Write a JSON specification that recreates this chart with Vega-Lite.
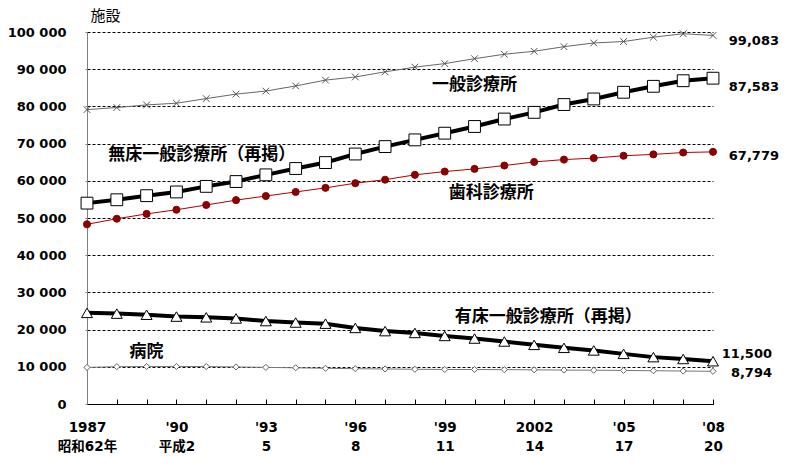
{
  "$schema": "https://vega.github.io/schema/vega-lite/v6.json",
  "width": 626,
  "height": 372,
  "autosize": "none",
  "padding": {"left": 87, "top": 32, "right": 83, "bottom": 62},
  "background": "white",
  "config": {
    "view": {"stroke": null},
    "font": "DejaVu Sans, Noto Sans CJK JP",
    "axis": {"labelOverlap": false}
  },
  "datasets": {
    "facilities": [
      {"year": 1987, "一般診療所": 79134, "無床一般診療所": 54000, "歯科診療所": 48300, "有床一般診療所": 24500, "病院": 9841},
      {"year": 1988, "一般診療所": 79700, "無床一般診療所": 54900, "歯科診療所": 49800, "有床一般診療所": 24300, "病院": 10034},
      {"year": 1989, "一般診療所": 80400, "無床一般診療所": 56000, "歯科診療所": 51100, "有床一般診療所": 24000, "病院": 10081},
      {"year": 1990, "一般診療所": 80852, "無床一般診療所": 57000, "歯科診療所": 52216, "有床一般診療所": 23500, "病院": 10096},
      {"year": 1991, "一般診療所": 82100, "無床一般診療所": 58500, "歯科診療所": 53500, "有床一般診療所": 23300, "病院": 10066},
      {"year": 1992, "一般診療所": 83300, "無床一般診療所": 59800, "歯科診療所": 54800, "有床一般診療所": 23000, "病院": 9963},
      {"year": 1993, "一般診療所": 84128, "無床一般診療所": 61600, "歯科診療所": 55906, "有床一般診療所": 22300, "病院": 9844},
      {"year": 1994, "一般診療所": 85500, "無床一般診療所": 63300, "歯科診療所": 57000, "有床一般診療所": 21900, "病院": 9731},
      {"year": 1995, "一般診療所": 87069, "無床一般診療所": 64900, "歯科診療所": 58100, "有床一般診療所": 21600, "病院": 9606},
      {"year": 1996, "一般診療所": 87909, "無床一般診療所": 67200, "歯科診療所": 59357, "有床一般診療所": 20452, "病院": 9490},
      {"year": 1997, "一般診療所": 89292, "無床一般診療所": 69200, "歯科診療所": 60300, "有床一般診療所": 19600, "病院": 9413},
      {"year": 1998, "一般診療所": 90556, "無床一般診療所": 71000, "歯科診療所": 61600, "有床一般診療所": 19100, "病院": 9333},
      {"year": 1999, "一般診療所": 91500, "無床一般診療所": 72800, "歯科診療所": 62484, "有床一般診療所": 18300, "病院": 9286},
      {"year": 2000, "一般診療所": 92824, "無床一般診療所": 74600, "歯科診療所": 63200, "有床一般診療所": 17600, "病院": 9266},
      {"year": 2001, "一般診療所": 94019, "無床一般診療所": 76600, "歯科診療所": 64100, "有床一般診療所": 16800, "病院": 9239},
      {"year": 2002, "一般診療所": 94819, "無床一般診療所": 78400, "歯科診療所": 65073, "有床一般診療所": 15900, "病院": 9187},
      {"year": 2003, "一般診療所": 96050, "無床一般診療所": 80500, "歯科診療所": 65700, "有床一般診療所": 15100, "病院": 9122},
      {"year": 2004, "一般診療所": 97051, "無床一般診療所": 82000, "歯科診療所": 66100, "有床一般診療所": 14400, "病院": 9077},
      {"year": 2005, "一般診療所": 97442, "無床一般診療所": 83800, "歯科診療所": 66732, "有床一般診療所": 13477, "病院": 9026},
      {"year": 2006, "一般診療所": 98609, "無床一般診療所": 85400, "歯科診療所": 67100, "有床一般診療所": 12600, "病院": 8943},
      {"year": 2007, "一般診療所": 99532, "無床一般診療所": 86900, "歯科診療所": 67600, "有床一般診療所": 12100, "病院": 8862},
      {"year": 2008, "一般診療所": 99083, "無床一般診療所": 87583, "歯科診療所": 67779, "有床一般診療所": 11500, "病院": 8794}
    ],
    "seriesLabels": [
      {"label": "一般診療所", "year": 2000.0, "value": 85750},
      {"label": "無床一般診療所（再掲）", "year": 1990.85, "value": 66900},
      {"label": "歯科診療所", "year": 2000.56, "value": 56600},
      {"label": "有床一般診療所（再掲）", "year": 2002.47, "value": 23500},
      {"label": "病院", "year": 1989.0, "value": 14100}
    ],
    "endLabelsTop": [
      {"label": "99,083", "year": 2008, "value": 97700},
      {"label": "87,583", "year": 2008, "value": 85100},
      {"label": "67,779", "year": 2008, "value": 66700}
    ],
    "endLabelsBottom": [
      {"label": "11,500", "year": 2008, "value": 13400},
      {"label": "8,794", "year": 2008, "value": 8200}
    ]
  },
  "layer": [
    {
      "data": {"name": "facilities"},
      "transform": [{"fold": ["一般診療所", "無床一般診療所", "歯科診療所", "有床一般診療所", "病院"], "as": ["series", "value"]}],
      "mark": {"type": "line"},
      "encoding": {
        "x": {
          "field": "year", "type": "quantitative",
          "scale": {"domain": [1987, 2008], "nice": false, "zero": false},
          "axis": {
            "title": null,
            "values": [1987, 1988, 1989, 1990, 1991, 1992, 1993, 1994, 1995, 1996, 1997, 1998, 1999, 2000, 2001, 2002, 2003, 2004, 2005, 2006, 2007, 2008],
            "tickCount": 40,
            "labelExpr": "datum.value == 1987 ? ['1987', '昭和62年'] : datum.value == 1990 ? [\"'90\", '平成2'] : datum.value == 1993 ? [\"'93\", '5'] : datum.value == 1996 ? [\"'96\", '8'] : datum.value == 1999 ? [\"'99\", '11'] : datum.value == 2002 ? ['2002', '14'] : datum.value == 2005 ? [\"'05\", '17'] : datum.value == 2008 ? [\"'08\", '20'] : ''",
            "labelFontSize": 13.5,
            "labelFontWeight": "bold",
            "labelColor": "#000",
            "labelLineHeight": 19,
            "labelBaseline": "top",
            "labelOverlap": false,
            "labelFlush": false,
            "labelPadding": 21,
            "tickSize": -5,
            "tickColor": "#000",
            "domainColor": "#000",
            "grid": false
          }
        },
        "y": {
          "field": "value", "type": "quantitative",
          "scale": {"domain": [0, 100000], "nice": false},
          "axis": {
            "title": "施設",
            "titleAngle": 0,
            "titleAlign": "left",
            "titleBaseline": "alphabetic",
            "titleX": 3,
            "titleY": -12,
            "titleFont": "Noto Sans CJK JP",
            "titleFontWeight": "normal",
            "titleFontSize": 15,
            "titleColor": "#000",
            "values": [0, 10000, 20000, 30000, 40000, 50000, 60000, 70000, 80000, 90000, 100000],
            "tickCount": 20,
            "labelExpr": "replace(format(datum.value, ','), ',', ' ')",
            "labelFontSize": 13,
            "labelFontWeight": "bold",
            "labelColor": "#000",
            "labelOverlap": false,
            "labelPadding": 19,
            "tickSize": 2,
            "tickColor": "#808080",
            "domainColor": "#808080",
            "grid": true,
            "gridColor": "#000",
            "gridDash": [3, 2],
            "gridWidth": 1
          }
        },
        "color": {
          "field": "series", "type": "nominal",
          "scale": {"type": "ordinal", "domain": ["一般診療所", "無床一般診療所", "歯科診療所", "有床一般診療所", "病院"], "range": ["#666666", "#000000", "#b00000", "#000000", "#777777"]},
          "legend": null
        },
        "strokeWidth": {
          "field": "series", "type": "nominal",
          "scale": {"type": "ordinal", "domain": ["一般診療所", "無床一般診療所", "歯科診療所", "有床一般診療所", "病院"], "range": [1, 4, 1, 4, 1]},
          "legend": null
        }
      }
    },
    {
      "data": {"name": "facilities"},
      "transform": [{"fold": ["一般診療所", "無床一般診療所", "歯科診療所", "有床一般診療所", "病院"], "as": ["series", "value"]}],
      "mark": {"type": "point", "filled": false, "opacity": 1, "strokeWidth": 1},
      "encoding": {
        "x": {"field": "year", "type": "quantitative"},
        "y": {"field": "value", "type": "quantitative"},
        "shape": {
          "field": "series", "type": "nominal",
          "scale": {"type": "ordinal", "domain": ["一般診療所", "無床一般診療所", "歯科診療所", "有床一般診療所", "病院"], "range": ["M-1,-1L1,1M-1,1L1,-1", "square", "circle", "triangle-up", "diamond"]},
          "legend": null
        },
        "size": {
          "field": "series", "type": "nominal",
          "scale": {"type": "ordinal", "domain": ["一般診療所", "無床一般診療所", "歯科診療所", "有床一般診療所", "病院"], "range": [45, 140, 50, 120, 38]},
          "legend": null
        },
        "fill": {
          "field": "series", "type": "nominal",
          "scale": {"type": "ordinal", "domain": ["一般診療所", "無床一般診療所", "歯科診療所", "有床一般診療所", "病院"], "range": ["transparent", "#ffffff", "#8b0000", "#ffffff", "#ffffff"]},
          "legend": null
        },
        "stroke": {
          "field": "series", "type": "nominal",
          "scale": {"type": "ordinal", "domain": ["一般診療所", "無床一般診療所", "歯科診療所", "有床一般診療所", "病院"], "range": ["#555555", "#000000", "#8b0000", "#000000", "#666666"]},
          "legend": null
        }
      }
    },
    {
      "data": {"name": "seriesLabels"},
      "mark": {"type": "text", "font": "Noto Sans CJK JP", "fontWeight": "bold", "fontSize": 17, "align": "center", "baseline": "middle", "color": "#000"},
      "encoding": {
        "x": {"field": "year", "type": "quantitative"},
        "y": {"field": "value", "type": "quantitative"},
        "text": {"field": "label"}
      }
    },
    {
      "data": {"name": "endLabelsTop"},
      "mark": {"type": "text", "fontWeight": "bold", "fontSize": 13, "align": "right", "baseline": "middle", "dx": 66, "color": "#000"},
      "encoding": {
        "x": {"field": "year", "type": "quantitative"},
        "y": {"field": "value", "type": "quantitative"},
        "text": {"field": "label"}
      }
    },
    {
      "data": {"name": "endLabelsBottom"},
      "mark": {"type": "text", "fontWeight": "bold", "fontSize": 13, "align": "right", "baseline": "middle", "dx": 59, "color": "#000"},
      "encoding": {
        "x": {"field": "year", "type": "quantitative"},
        "y": {"field": "value", "type": "quantitative"},
        "text": {"field": "label"}
      }
    }
  ]
}
